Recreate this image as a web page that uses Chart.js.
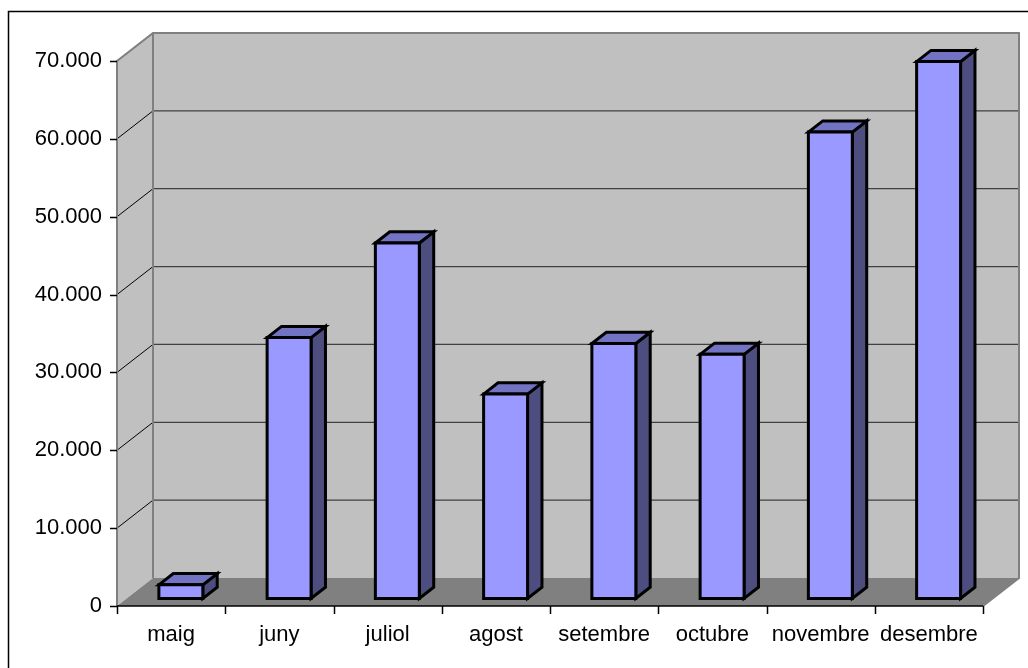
<!DOCTYPE html>
<html>
<head>
<meta charset="utf-8">
<script src="https://cdn.jsdelivr.net/npm/chart.js@4/dist/chart.umd.min.js"></script>
<style>
  html, body { margin: 0; padding: 0; background: #fff; }
  #wrap { width: 1028px; height: 668px; position: relative; }
</style>
</head>
<body>
<div id="wrap"><canvas id="chart"></canvas></div>
<script>
const MONTHS = ['maig', 'juny', 'juliol', 'agost', 'setembre', 'octubre', 'novembre', 'desembre'];
const VALUES = [1750, 33500, 45650, 26250, 32750, 31350, 59900, 68950];
const Y_MIN = 0;
const Y_MAX = 70000;
const Y_STEP = 10000;

// 3D look: depth of the box and of each bar, as pixel offsets
const DEPTH = { dx: 36, dy: -28 };
const BAR_FRONT = 0.27;   // bar front face, fraction of depth
const BAR_DEPTH = 0.40;   // bar thickness, fraction of depth
const FONT = { family: "'Liberation Sans', Arial, sans-serif", size: 22 };

const fmt = v => v.toLocaleString('de-DE');

const box3d = {
  id: 'box3d',
  beforeDatasetsDraw(chart) {
    const { ctx, chartArea: a, scales: { x, y } } = chart;
    const dx = DEPTH.dx, dy = DEPTH.dy;
    ctx.save();

    // outer frame (only top and left visible)
    ctx.strokeStyle = '#000';
    ctx.lineWidth = 1.5;
    ctx.strokeRect(8.5, 11.5, 1100, 800);

    // back wall
    ctx.fillStyle = '#c0c0c0';
    ctx.fillRect(a.left + dx, a.top + dy, a.width, a.height);
    // side wall
    ctx.beginPath();
    ctx.moveTo(a.left, a.top);
    ctx.lineTo(a.left + dx, a.top + dy);
    ctx.lineTo(a.left + dx, a.bottom + dy);
    ctx.lineTo(a.left, a.bottom);
    ctx.closePath();
    ctx.fill();
    // floor
    ctx.fillStyle = '#808080';
    ctx.beginPath();
    ctx.moveTo(a.left, a.bottom);
    ctx.lineTo(a.left + dx, a.bottom + dy);
    ctx.lineTo(a.right + dx, a.bottom + dy);
    ctx.lineTo(a.right, a.bottom);
    ctx.closePath();
    ctx.fill();

    // gridlines
    y.ticks.forEach(t => {
      const py = y.getPixelForValue(t.value);
      if (t.value === Y_MIN) return;
      ctx.strokeStyle = '#404040';
      ctx.lineWidth = 1.2;
      ctx.beginPath();
      ctx.moveTo(a.left + dx, py + dy);
      ctx.lineTo(a.right + dx, py + dy);
      ctx.stroke();
      ctx.strokeStyle = '#000';
      ctx.lineWidth = 1;
      ctx.beginPath();
      ctx.moveTo(a.left, py);
      ctx.lineTo(a.left + dx, py + dy);
      ctx.stroke();
    });

    // wall edges
    ctx.strokeStyle = '#808080';
    ctx.lineWidth = 2;
    ctx.beginPath();
    ctx.moveTo(a.left, a.bottom);
    ctx.lineTo(a.left, a.top);
    ctx.lineTo(a.left + dx, a.top + dy);
    ctx.lineTo(a.right + dx, a.top + dy);
    ctx.lineTo(a.right + dx, a.bottom + dy);
    ctx.lineTo(a.right, a.bottom);
    ctx.moveTo(a.left + dx, a.top + dy);
    ctx.lineTo(a.left + dx, a.bottom + dy);
    ctx.stroke();

    // axis line and ticks
    ctx.strokeStyle = '#000';
    ctx.lineWidth = 1.5;
    ctx.beginPath();
    ctx.moveTo(a.left, a.bottom);
    ctx.lineTo(a.right, a.bottom);
    y.ticks.forEach(t => {
      const py = Math.round(y.getPixelForValue(t.value)) + 0.5;
      ctx.moveTo(a.left - 7, py);
      ctx.lineTo(a.left, py);
    });
    const step = a.width / MONTHS.length;
    for (let i = 0; i <= MONTHS.length; i++) {
      const px = Math.round(a.left + i * step) + 0.5;
      ctx.moveTo(px, a.bottom);
      ctx.lineTo(px, a.bottom + 8);
    }
    ctx.stroke();
    ctx.restore();
  },
  afterDatasetsDraw(chart) {
    const { ctx, scales: { y } } = chart;
    const meta = chart.getDatasetMeta(0);
    const fx = DEPTH.dx * BAR_FRONT, fy = DEPTH.dy * BAR_FRONT;
    const bx = DEPTH.dx * BAR_DEPTH, by = DEPTH.dy * BAR_DEPTH;
    const base = y.getPixelForValue(Y_MIN);
    ctx.save();
    ctx.lineWidth = 3;
    ctx.lineJoin = 'miter';
    ctx.strokeStyle = '#000';
    meta.data.forEach(bar => {
      const l = bar.x - bar.width / 2 + fx;
      const r = bar.x + bar.width / 2 + fx;
      const t = bar.y + fy;
      const b = base + fy;
      const poly = (pts, fill) => {
        ctx.beginPath();
        pts.forEach(([px, py], k) => k ? ctx.lineTo(px, py) : ctx.moveTo(px, py));
        ctx.closePath();
        ctx.fillStyle = fill;
        ctx.fill();
        ctx.stroke();
      };
      // side
      poly([[r, t], [r + bx, t + by], [r + bx, b + by], [r, b]], '#4d4d80');
      // top
      poly([[l, t], [l + bx, t + by], [r + bx, t + by], [r, t]], '#7373c4');
      // front
      poly([[l, t], [r, t], [r, b], [l, b]], '#9999ff');
    });
    ctx.restore();
  }
};

new Chart(document.getElementById('chart'), {
  type: 'bar',
  data: {
    labels: MONTHS,
    datasets: [{
      data: VALUES,
      backgroundColor: 'rgba(0,0,0,0)',
      borderWidth: 0,
      barPercentage: 0.406,
      categoryPercentage: 1,
    }],
  },
  options: {
    responsive: true,
    maintainAspectRatio: false,
    animation: false,
    events: [],
    layout: { padding: { left: 0, right: 45, top: 61, bottom: 0 } },
    plugins: { legend: { display: false }, tooltip: { enabled: false } },
    scales: {
      x: {
        grid: { display: false, drawTicks: false },
        border: { display: false },
        ticks: { color: '#000', font: FONT, padding: 16, maxRotation: 0, autoSkip: false },
        afterFit: s => { s.height = 62; },
      },
      y: {
        min: Y_MIN, max: Y_MAX,
        grid: { display: false, drawTicks: false },
        border: { display: false },
        ticks: { color: '#000', font: FONT, padding: 15, stepSize: Y_STEP, callback: v => fmt(v) },
        afterFit: s => { s.height; s.width = 117; },
      },
    },
  },
  plugins: [box3d],
});
</script>
</body>
</html>
